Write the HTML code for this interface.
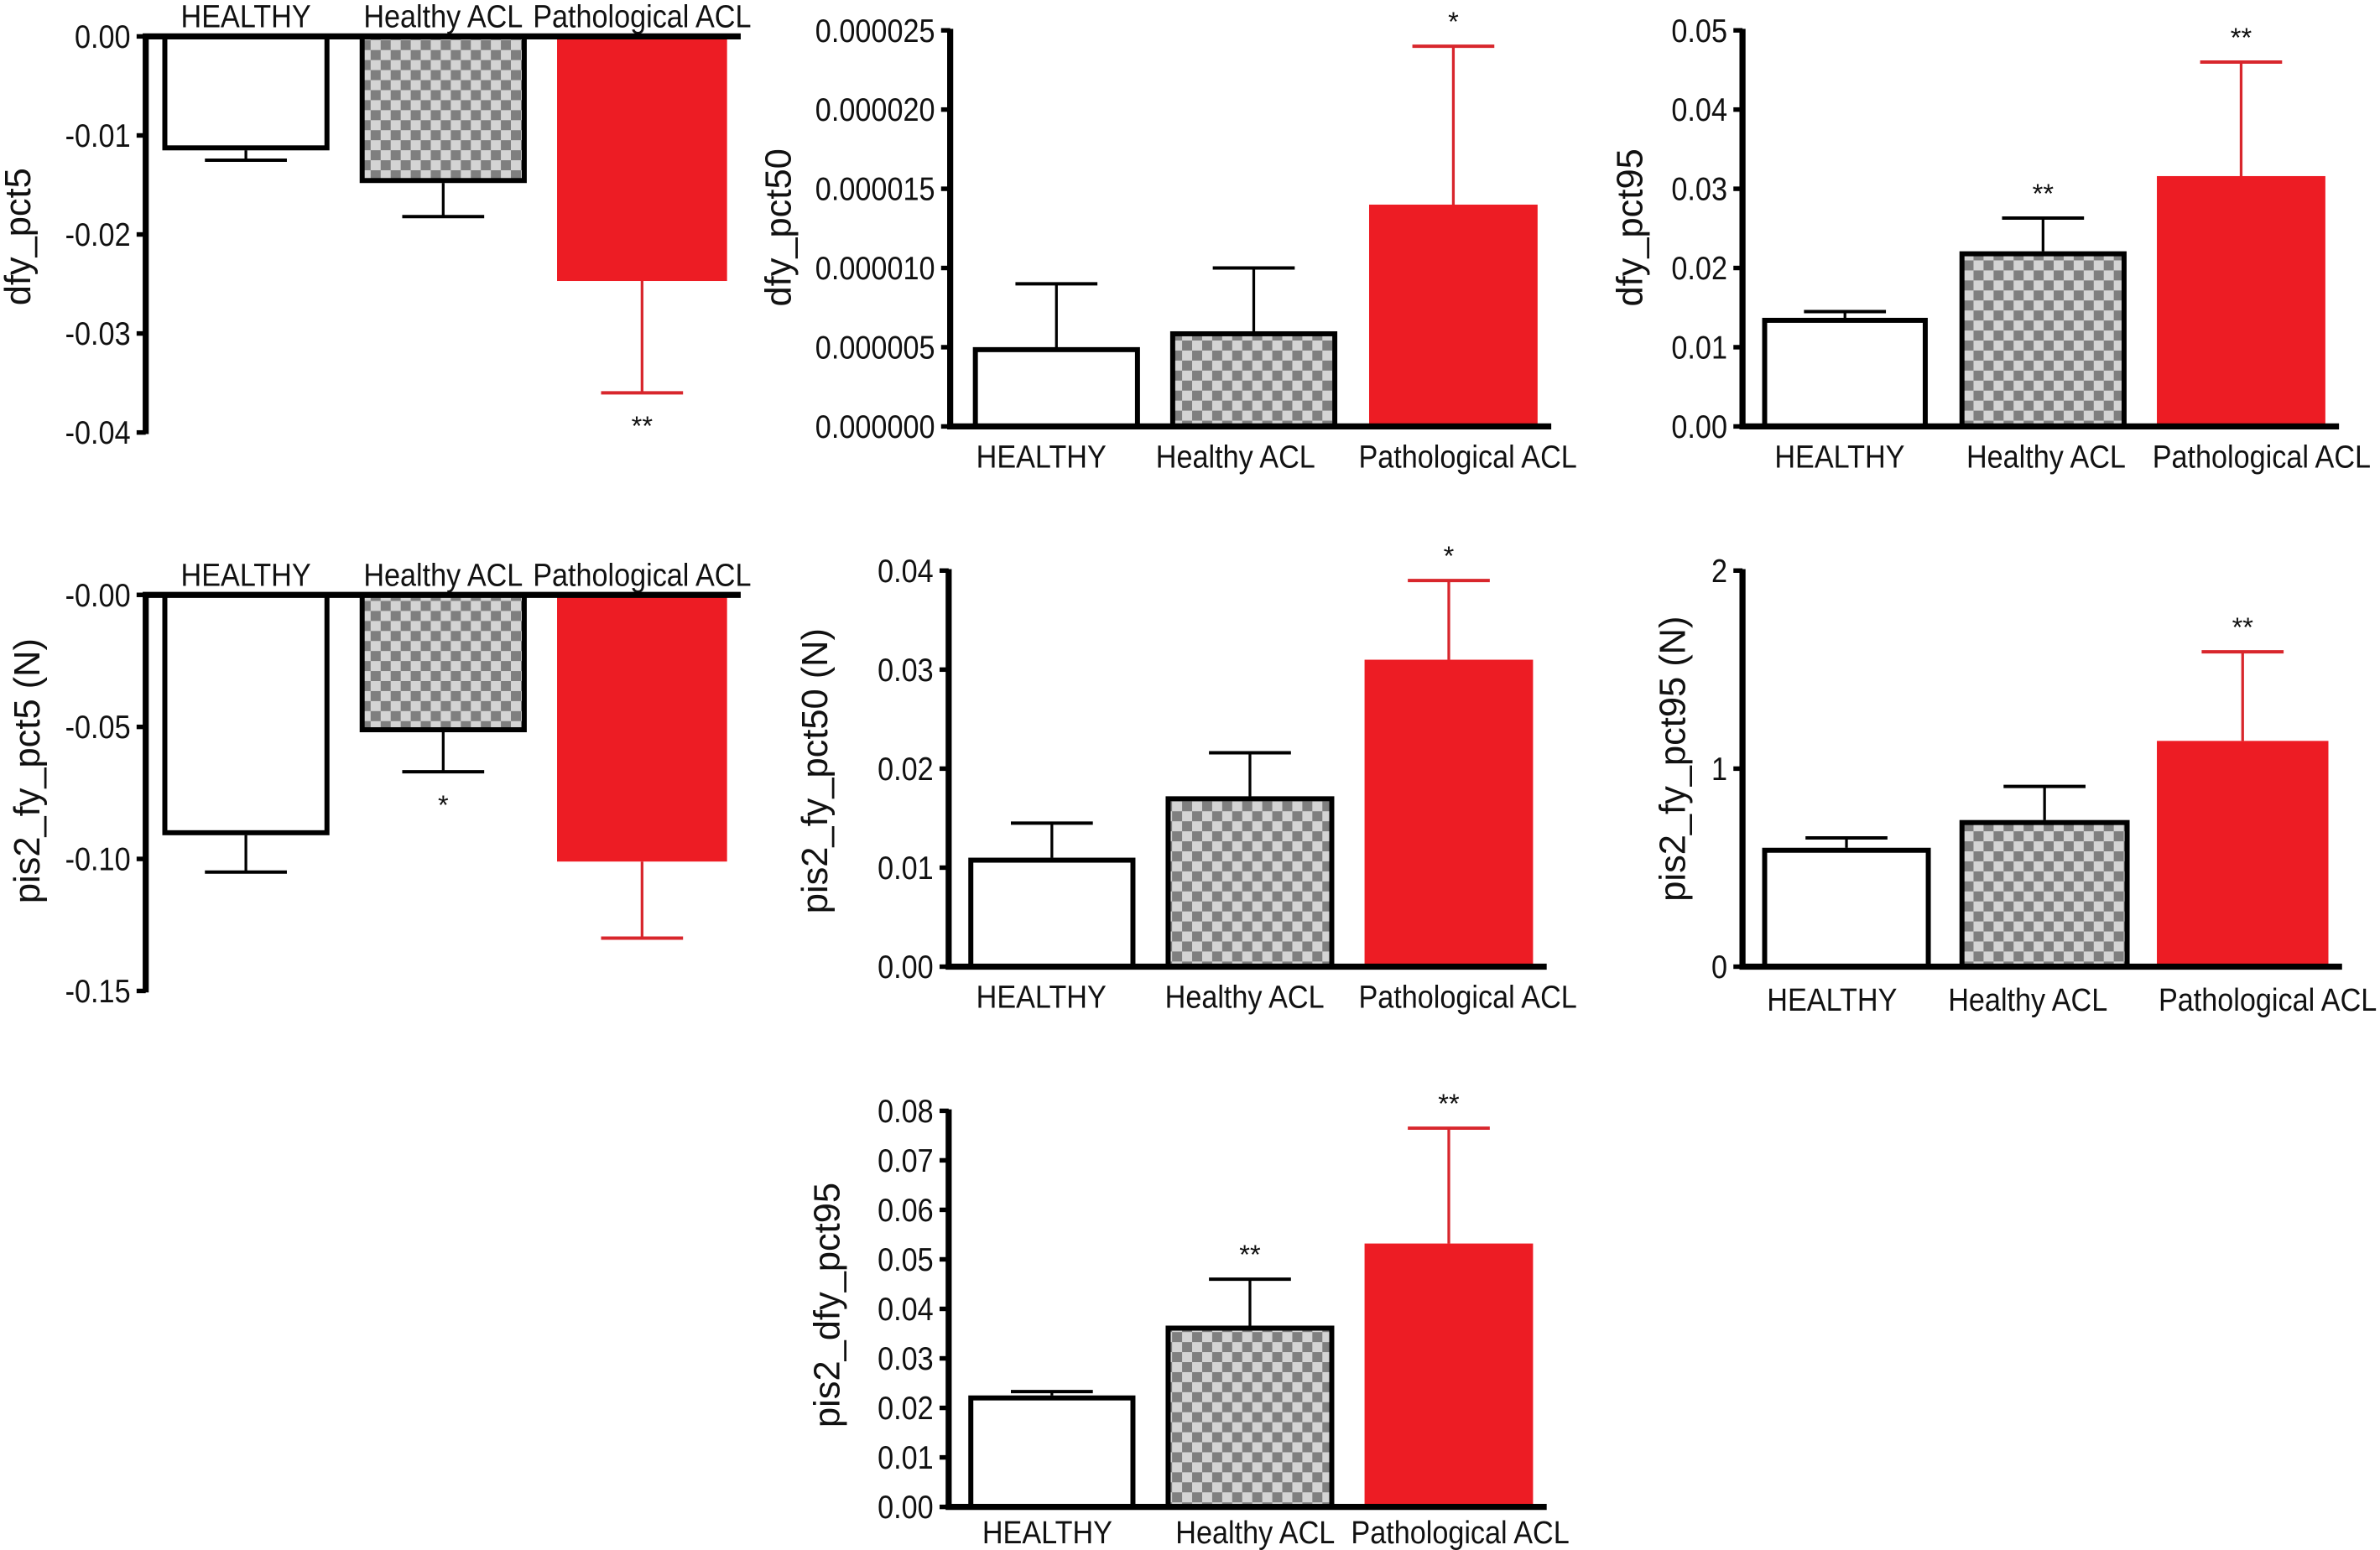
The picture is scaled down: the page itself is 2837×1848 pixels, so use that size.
<!DOCTYPE html>
<html><head><meta charset="utf-8"><style>
html,body{margin:0;padding:0;background:#fff;}
svg{display:block;}
text{font-family:"Liberation Sans",sans-serif;fill:#111;}
</style></head><body>
<svg id="fig" width="2837" height="1848" viewBox="0 0 1568 1021.4" preserveAspectRatio="none" xmlns="http://www.w3.org/2000/svg">
<defs>
<pattern id="checker" width="13.2" height="13.2" patternUnits="userSpaceOnUse">
<rect width="13.2" height="13.2" fill="#d4d4d4"/>
<rect width="6.6" height="6.6" fill="#7f7f7f"/>
<rect x="6.6" y="6.6" width="6.6" height="6.6" fill="#7f7f7f"/>
</pattern>
</defs>
</svg>
<script>
const categories = ["HEALTHY", "Healthy ACL", "Pathological ACL"];
const dfyPct5Means = [-0.0115, -0.0148, -0.0247];
const dfyPct5Sd = [0.0010, 0.0034, 0.0113];
const dfyPct5Stars = ["", "", "**"];
const dfyPct5Ticks = [0, -0.01, -0.02, -0.03, -0.04];
const dfyPct5TickLabels = ["0.00", "-0.01", "-0.02", "-0.03", "-0.04"];

const dfyPct50Means = [0.000005, 0.000006, 0.000014];
const dfyPct50Sd = [0.000004, 0.000004, 0.000010];
const dfyPct50Stars = ["", "", "*"];
const dfyPct50Ticks = [0, 0.000005, 0.00001, 0.000015, 0.00002, 0.000025];
const dfyPct50TickLabels = ["0.000000", "0.000005", "0.000010", "0.000015", "0.000020", "0.000025"];

const dfyPct95Means = [0.0137, 0.0221, 0.0316];
const dfyPct95Sd = [0.0008, 0.0042, 0.0144];
const dfyPct95Stars = ["", "**", "**"];
const dfyPct95Ticks = [0, 0.01, 0.02, 0.03, 0.04, 0.05];
const dfyPct95TickLabels = ["0.00", "0.01", "0.02", "0.03", "0.04", "0.05"];

const fyPct5Means = [-0.091, -0.052, -0.101];
const fyPct5Sd = [0.014, 0.015, 0.029];
const fyPct5Stars = ["", "*", ""];
const fyPct5Ticks = [0, -0.05, -0.10, -0.15];
const fyPct5TickLabels = ["-0.00", "-0.05", "-0.10", "-0.15"];

const fyPct50Means = [0.011, 0.0172, 0.031];
const fyPct50Sd = [0.0035, 0.0044, 0.008];
const fyPct50Stars = ["", "", "*"];
const fyPct50Ticks = [0, 0.01, 0.02, 0.03, 0.04];
const fyPct50TickLabels = ["0.00", "0.01", "0.02", "0.03", "0.04"];

const fyPct95Means = [0.60, 0.74, 1.14];
const fyPct95Sd = [0.05, 0.17, 0.45];
const fyPct95Stars = ["", "", "**"];
const fyPct95Ticks = [0, 1, 2];
const fyPct95TickLabels = ["0", "1", "2"];

const dfyP95Means = [0.0225, 0.0366, 0.0532];
const dfyP95Sd = [0.0008, 0.0094, 0.0233];
const dfyP95Stars = ["", "**", "**"];
const dfyP95Ticks = [0, 0.01, 0.02, 0.03, 0.04, 0.05, 0.06, 0.07, 0.08];
const dfyP95TickLabels = ["0.00", "0.01", "0.02", "0.03", "0.04", "0.05", "0.06", "0.07", "0.08"];

const NS = "http://www.w3.org/2000/svg";
const svg = document.getElementById("fig");
function mk(tag, attrs, parent) {
  const e = document.createElementNS(NS, tag);
  for (const k in attrs) e.setAttribute(k, attrs[k]);
  (parent || svg).appendChild(e);
  return e;
}
const fills = ["#ffffff", "url(#checker)", "#ed1c24"];

function chart(cfg, means, sds, stars, ticks, tickLabels) {
  const g = mk("g", {});
  
  
  const min = Math.min.apply(null, ticks), max = Math.max.apply(null, ticks);
  const y = v => cfg.top + (max - v) / (max - min) * (cfg.bot - cfg.top);
  const y0 = y(0);
  const neg = max <= 0;
  for (let i = 0; i < means.length; i++) {
    const x1 = cfg.bars[i][0], x2 = cfg.bars[i][1], cx = (x1 + x2) / 2;
    const ym = y(means[i]);
    const ye = y(means[i] + (neg ? -sds[i] : sds[i]));
    const col = i === 2 ? "#d8262c" : "#000";
    const eb = mk("line", {x1: cx, x2: cx, y1: ym, y2: ye, stroke: col, "stroke-width": 1.8}, g);
    
    
    const cap = mk("line", {x1: cx - 27, x2: cx + 27, y1: ye, y2: ye, stroke: col, "stroke-width": 2.2}, g);
    
    
    const top = Math.min(ym, y0), h = Math.abs(ym - y0);
    let r;
    if (i === 2) r = mk("rect", {x: x1, y: top, width: x2 - x1, height: h, fill: fills[i]}, g);
    else r = mk("rect", {x: x1 + 1.6, y: top + (neg ? 0 : 1.6), width: x2 - x1 - 3.2, height: h - 1.6, fill: fills[i], stroke: "#000", "stroke-width": 3.3}, g);
    
    
    if (stars[i]) {
      const sy = neg ? ye + 28 : ye - 10;
      const s = mk("text", {x: cx, y: sy, "text-anchor": "middle", "font-size": 18}, g);
      s.textContent = stars[i];
      
      
    }
    const ly = neg ? cfg.top - 6 : y0 + (cfg.labelDy || 27);
    const lx = cfg.labelX ? cfg.labelX[i] : cx;
    const lt = mk("text", {x: 0, y: 0, "text-anchor": "middle", "font-size": 21, transform: "translate(" + lx + "," + ly + ") scale(0.9,1)"}, g);
    lt.textContent = categories[i];
    
    
  }
  const ya = mk("line", {x1: cfg.ax, x2: cfg.ax, y1: cfg.top - 1, y2: cfg.bot + 1, stroke: "#000", "stroke-width": 4}, g);
  
  
  const xa = mk("line", {x1: cfg.ax - 2, x2: cfg.bars[2][1] + 9, y1: y0, y2: y0, stroke: "#000", "stroke-width": 4}, g);
  
  
  for (let t = 0; t < ticks.length; t++) {
    const ty = y(ticks[t]);
    const tk = mk("line", {x1: cfg.ax - 6, x2: cfg.ax, y1: ty, y2: ty, stroke: "#000", "stroke-width": 3}, g);
    
    
    const tl = mk("text", {x: 0, y: 0, "text-anchor": "end", "font-size": 21.5, transform: "translate(" + (cfg.ax - 10) + "," + (ty + 7.5) + ") scale(0.88,1)"}, g);
    tl.textContent = tickLabels[t];
    
    
  }
  const tt = mk("text", {x: 0, y: 0, "text-anchor": "middle", "font-size": 24, transform: "translate(" + cfg.titleX + "," + cfg.titleY + ") rotate(-90)"}, g);
  tt.textContent = cfg.title;
  
  
}

chart({name: "chart-dfy-pct5", title: "dfy_pct5", ax: 96, top: 24, bot: 285, titleX: 20, titleY: 156,
  bars: [[107, 217], [237, 347], [367, 479]]}, dfyPct5Means, dfyPct5Sd, dfyPct5Stars, dfyPct5Ticks, dfyPct5TickLabels);
chart({name: "chart-dfy-pct50", title: "dfy_pct50", ax: 626, top: 20, bot: 281, titleX: 521, titleY: 150,
  bars: [[641, 751], [771, 881], [902, 1013]], labelX: [686, 814, 967]}, dfyPct50Means, dfyPct50Sd, dfyPct50Stars, dfyPct50Ticks, dfyPct50TickLabels);
chart({name: "chart-dfy-pct95", title: "dfy_pct95", ax: 1148, top: 20, bot: 281, titleX: 1082, titleY: 150,
  bars: [[1161, 1270], [1291, 1401], [1421, 1532]], labelX: [1212, 1348, 1490]}, dfyPct95Means, dfyPct95Sd, dfyPct95Stars, dfyPct95Ticks, dfyPct95TickLabels);
chart({name: "chart-pis2-fy-pct5", title: "pis2_fy_pct5 (N)", ax: 96, top: 392, bot: 653, titleX: 26, titleY: 508,
  bars: [[107, 217], [237, 347], [367, 479]]}, fyPct5Means, fyPct5Sd, fyPct5Stars, fyPct5Ticks, fyPct5TickLabels);
chart({name: "chart-pis2-fy-pct50", title: "pis2_fy_pct50 (N)", ax: 625, top: 376, bot: 637, titleX: 545, titleY: 508,
  bars: [[638, 748], [768, 879], [899, 1010]], labelX: [686, 820, 967]}, fyPct50Means, fyPct50Sd, fyPct50Stars, fyPct50Ticks, fyPct50TickLabels);
chart({name: "chart-pis2-fy-pct95", title: "pis2_fy_pct95 (N)", ax: 1148, top: 376, bot: 637, titleX: 1110, titleY: 500, labelDy: 29,
  bars: [[1161, 1272], [1291, 1403], [1421, 1534]], labelX: [1207, 1336, 1494]}, fyPct95Means, fyPct95Sd, fyPct95Stars, fyPct95Ticks, fyPct95TickLabels);
chart({name: "chart-pis2-dfy-pct95", title: "pis2_dfy_pct95", ax: 625, top: 732, bot: 993, titleX: 553, titleY: 860, labelDy: 24,
  bars: [[638, 748], [768, 879], [899, 1010]], labelX: [690, 827, 962]}, dfyP95Means, dfyP95Sd, dfyP95Stars, dfyP95Ticks, dfyP95TickLabels);
</script>
</body></html>
